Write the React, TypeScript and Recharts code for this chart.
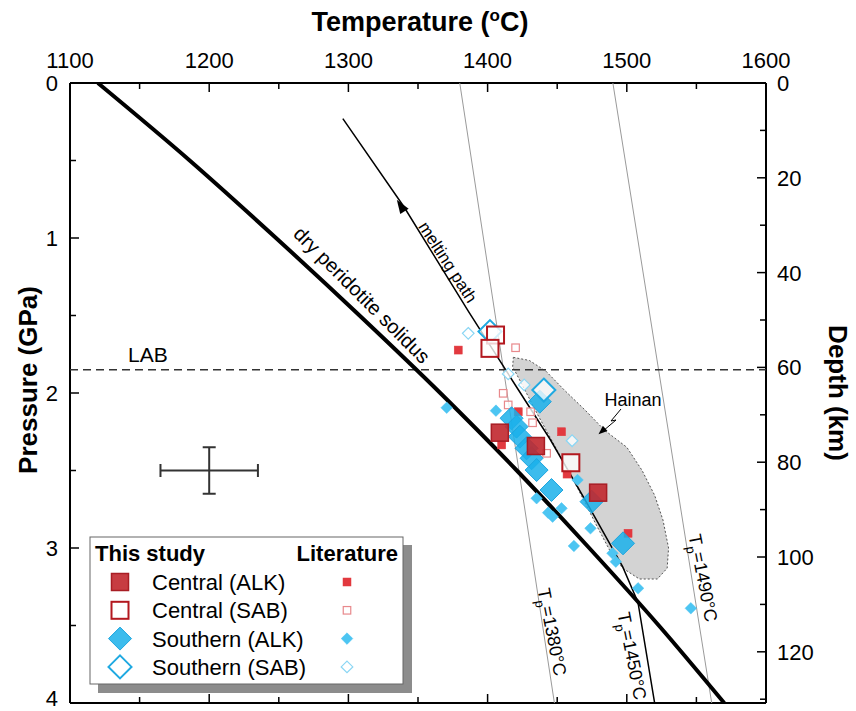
import React from 'react';
import { ComposedChart, Scatter, XAxis, YAxis, ErrorBar } from 'recharts';

const FONT = '"Liberation Sans", Arial, Helvetica, sans-serif';

// T in degC, P in GPa
const solidus = [
  { T: 1120, P: 0 }, { T: 1186, P: 0.5 }, { T: 1248, P: 1 }, { T: 1308, P: 1.5 },
  { T: 1366, P: 2 }, { T: 1421, P: 2.5 }, { T: 1473, P: 3 }, { T: 1523, P: 3.5 }, { T: 1570, P: 4 },
];
const adiabat1380 = [{ T: 1380, P: 0 }, { T: 1448, P: 4 }];
const adiabat1490 = [{ T: 1490, P: 0 }, { T: 1561, P: 4 }];
// melting path, then the Tp=1450 adiabat below the solidus
const meltPath = [
  { T: 1296, P: 0.23 }, { T: 1340, P: 0.8 }, { T: 1386, P: 1.47 }, { T: 1420, P: 1.95 },
  { T: 1445, P: 2.3 }, { T: 1472, P: 2.72 }, { T: 1497, P: 3.12 }, { T: 1508, P: 3.35 }, { T: 1520, P: 4 },
];
const lab = [{ T: 1100, P: 1.85 }, { T: 1600, P: 1.85 }];
const hainan = [
  { T: 1418.5, P: 1.77 }, { T: 1430, P: 1.79 }, { T: 1442, P: 1.86 }, { T: 1455, P: 1.98 },
  { T: 1470, P: 2.11 }, { T: 1484, P: 2.24 }, { T: 1500, P: 2.35 }, { T: 1511, P: 2.5 },
  { T: 1520, P: 2.66 }, { T: 1526, P: 2.82 }, { T: 1530, P: 3.0 }, { T: 1529, P: 3.13 },
  { T: 1522, P: 3.2 }, { T: 1509, P: 3.2 }, { T: 1497, P: 3.13 }, { T: 1488, P: 3.02 },
  { T: 1478, P: 2.85 }, { T: 1465, P: 2.62 }, { T: 1450, P: 2.37 }, { T: 1436, P: 2.14 },
  { T: 1425, P: 1.95 }, { T: 1418, P: 1.83 },
];
const errCross = [{ T: 1200, P: 2.5, eT: 35, eP: 0.15 }];

// this study
const centralALK = [{ T: 1408.8, P: 2.256 }, { T: 1434.7, P: 2.342 }, { T: 1479.4, P: 2.643 }];
const centralSAB = [{ T: 1405.7, P: 1.626 }, { T: 1401.7, P: 1.712 }, { T: 1459.8, P: 2.45 }];
const southernALK = [
  { T: 1437.5, P: 2.056 }, { T: 1417.2, P: 2.163 }, { T: 1420.8, P: 2.217 }, { T: 1423.2, P: 2.282 },
  { T: 1428.0, P: 2.357 }, { T: 1431.6, P: 2.421 }, { T: 1435.2, P: 2.497 }, { T: 1445.9, P: 2.626 },
  { T: 1474.7, P: 2.701 }, { T: 1497.3, P: 2.97 },
];
const southernSAB = [{ T: 1401.7, P: 1.604 }, { T: 1440.4, P: 1.981 }];

// literature
const litCentralALK = [
  { T: 1378.9, P: 1.723 }, { T: 1422.0, P: 2.121 }, { T: 1453.1, P: 2.25 },
  { T: 1410.1, P: 2.335 }, { T: 1457.1, P: 2.523 }, { T: 1500.9, P: 2.905 },
];
const litCentralSAB = [
  { T: 1420.1, P: 1.708 }, { T: 1411.2, P: 2.002 }, { T: 1414.8, P: 2.077 },
  { T: 1430.9, P: 2.121 }, { T: 1432.3, P: 2.192 }, { T: 1442.4, P: 2.389 },
];
const litSouthernALK = [
  { T: 1370.6, P: 2.095 }, { T: 1406.0, P: 2.114 }, { T: 1435.2, P: 2.679 }, { T: 1443.5, P: 2.772 },
  { T: 1446.7, P: 2.798 }, { T: 1453.1, P: 2.744 }, { T: 1464.6, P: 2.561 }, { T: 1473.9, P: 2.873 },
  { T: 1462.0, P: 2.987 }, { T: 1489.7, P: 3.034 }, { T: 1492.1, P: 3.088 }, { T: 1508.1, P: 3.26 },
  { T: 1546.0, P: 3.389 },
];
const litSouthernSAB = [
  { T: 1386.1, P: 1.615 }, { T: 1414.8, P: 1.877 }, { T: 1426.3, P: 1.948 }, { T: 1460.7, P: 2.308 },
];

const tempTicks = [1100, 1150, 1200, 1250, 1300, 1350, 1400, 1450, 1500, 1550, 1600];
const pressTicks = [0, 0.5, 1, 1.5, 2, 2.5, 3, 3.5, 4];
const depthTicks = [0, 10, 20, 30, 40, 50, 60, 70, 80, 90, 100, 110, 120, 130];

const square = (size: number, fill: string, stroke: string, sw: number, fo = 1) => (p: any) => (
  <rect x={p.cx - size / 2} y={p.cy - size / 2} width={size} height={size}
    fill={fill} fillOpacity={fo} stroke={stroke} strokeWidth={sw} />
);
const diamond = (r: number, fill: string, stroke: string, sw: number, fo = 1) => (p: any) => (
  <polygon points={`${p.cx},${p.cy - r} ${p.cx + r},${p.cy} ${p.cx},${p.cy + r} ${p.cx - r},${p.cy}`}
    fill={fill} fillOpacity={fo} stroke={stroke} strokeWidth={sw} />
);

const bigRed = square(17, '#c1272d', '#a81d24', 1.5, 0.9);
const bigRedOpen = square(17, '#ffffff', '#b3181f', 2, 0.8);
const bigBlue = diamond(11.5, '#1ab0ea', '#1ea6df', 1, 0.85);
const bigBlueOpen = diamond(11.5, '#ffffff', '#1fa9e1', 2, 0.75);
const smRed = square(8, '#e2393f', '#e2393f', 0.5);
const smRedOpen = square(7.5, '#ffffff', '#e8898c', 1.2, 0.8);
const smBlue = diamond(5.8, '#4cc5f2', '#4cc5f2', 0.5);
const smBlueOpen = diamond(5.8, '#ffffff', '#8ad6f4', 1.2, 0.8);
const none = () => <g />;

const TopTick = (props: any) => {
  const { x, y, payload } = props;
  const major = payload.value % 100 === 0;
  return (
    <g>
      <line x1={x} y1={y} x2={x} y2={y + (major ? 9 : 6)} stroke="#000" strokeWidth={1.5} />
      {major && (
        <text x={x} y={y - 15} textAnchor="middle" fontSize={22} fontFamily={FONT} fill="#000">
          {payload.value}
        </text>
      )}
    </g>
  );
};
const BottomTick = (props: any) => {
  const { x, y, payload } = props;
  const major = payload.value % 100 === 0;
  return <line x1={x} y1={y} x2={x} y2={y - (major ? 9 : 6)} stroke="#000" strokeWidth={1.5} />;
};
const LeftTick = (props: any) => {
  const { x, y, payload } = props;
  const major = Number.isInteger(payload.value);
  const last = payload.value === 4;
  return (
    <g>
      <line x1={x} y1={y} x2={x + (major ? 9 : 6)} y2={y} stroke="#000" strokeWidth={1.5} />
      {major && (
        <text x={x - 12} y={last ? y + 3 : y + 8} textAnchor="end" fontSize={22} fontFamily={FONT} fill="#000">
          {payload.value}
        </text>
      )}
    </g>
  );
};
const RightTick = (props: any) => {
  const { x, y, payload } = props;
  const major = payload.value % 20 === 0;
  return (
    <g>
      <line x1={x} y1={y} x2={x - (major ? 9 : 6)} y2={y} stroke="#000" strokeWidth={1.5} />
      {major && (
        <text x={x + 11} y={y + 8} textAnchor="start" fontSize={22} fontFamily={FONT} fill="#000">
          {payload.value}
        </text>
      )}
    </g>
  );
};

const Tp = ({ x, y, angle, value }: { x: number; y: number; angle: number; value: string }) => (
  <text transform={`translate(${x},${y}) rotate(${angle})`} textAnchor="middle" y={6}
    fontSize={18} fontFamily={FONT} fill="#000">
    T<tspan fontSize={13} dy={5}>p</tspan><tspan dy={-5}>={value}°C</tspan>
  </text>
);

const legendRows = [
  { label: 'Central (ALK)', big: bigRed, small: smRed },
  { label: 'Central (SAB)', big: bigRedOpen, small: smRedOpen },
  { label: 'Southern (ALK)', big: bigBlue, small: smBlue },
  { label: 'Southern (SAB)', big: bigBlueOpen, small: smBlueOpen },
];

export default function App() {
  return (
    <div style={{ position: 'absolute', left: 0, top: 0, width: 856, height: 711, background: '#fff' }}>
      <ComposedChart width={856} height={711} margin={{ top: 33, right: 30, bottom: 0, left: 10 }}>
        <XAxis xAxisId="t" orientation="top" type="number" dataKey="T" domain={[1100, 1600]}
          ticks={tempTicks} interval={0} height={50} allowDataOverflow
          axisLine={{ stroke: '#000', strokeWidth: 2 }} tickLine={false} tickSize={0} tickMargin={0} tick={<TopTick />} />
        <XAxis xAxisId="b" orientation="bottom" type="number" dataKey="T" domain={[1100, 1600]}
          ticks={tempTicks} interval={0} height={8} allowDataOverflow
          axisLine={{ stroke: '#000', strokeWidth: 2 }} tickLine={false} tickSize={0} tickMargin={0} tick={<BottomTick />} />
        <YAxis yAxisId="p" orientation="left" type="number" dataKey="P" domain={[0, 4]} reversed
          ticks={pressTicks} interval={0} width={60} allowDataOverflow
          axisLine={{ stroke: '#000', strokeWidth: 2 }} tickLine={false} tickSize={0} tickMargin={0} tick={<LeftTick />} />
        <YAxis yAxisId="d" orientation="right" type="number" domain={[0, 130.8]} reversed
          ticks={depthTicks} interval={0} width={60} allowDataOverflow
          axisLine={{ stroke: '#000', strokeWidth: 2 }} tickLine={false} tickSize={0} tickMargin={0} tick={<RightTick />} />

        <Scatter xAxisId="t" yAxisId="p" data={hainan} shape={none} isAnimationActive={false}
          line={{ stroke: '#555', strokeWidth: 1, strokeDasharray: '2 2', fill: '#d3d3d3' }} lineJointType="linearClosed" />
        <Scatter xAxisId="t" yAxisId="p" data={adiabat1380} shape={none} isAnimationActive={false}
          line={{ stroke: '#9a9a9a', strokeWidth: 1 }} />
        <Scatter xAxisId="t" yAxisId="p" data={adiabat1490} shape={none} isAnimationActive={false}
          line={{ stroke: '#9a9a9a', strokeWidth: 1 }} />
        <Scatter xAxisId="t" yAxisId="p" data={lab} shape={none} isAnimationActive={false}
          line={{ stroke: '#333', strokeWidth: 1.5, strokeDasharray: '8 5' }} />
        <Scatter xAxisId="t" yAxisId="p" data={meltPath} shape={none} isAnimationActive={false}
          line={{ stroke: '#000', strokeWidth: 1.5 }} lineJointType="linear" />
        <Scatter xAxisId="t" yAxisId="p" data={solidus} shape={none} isAnimationActive={false}
          line={{ stroke: '#000', strokeWidth: 4 }} lineJointType="monotoneX" />
        <Scatter xAxisId="t" yAxisId="p" data={errCross} shape={none} isAnimationActive={false}>
          <ErrorBar dataKey="eT" direction="x" width={6.5} stroke="#333" strokeWidth={2} />
          <ErrorBar dataKey="eP" direction="y" width={6.5} stroke="#333" strokeWidth={2} />
        </Scatter>

        <Scatter xAxisId="t" yAxisId="p" data={litSouthernALK} shape={smBlue} isAnimationActive={false} />
        <Scatter xAxisId="t" yAxisId="p" data={litSouthernSAB} shape={smBlueOpen} isAnimationActive={false} />
        <Scatter xAxisId="t" yAxisId="p" data={litCentralALK} shape={smRed} isAnimationActive={false} />
        <Scatter xAxisId="t" yAxisId="p" data={litCentralSAB} shape={smRedOpen} isAnimationActive={false} />
        <Scatter xAxisId="t" yAxisId="p" data={southernALK} shape={bigBlue} isAnimationActive={false} />
        <Scatter xAxisId="t" yAxisId="p" data={southernSAB} shape={bigBlueOpen} isAnimationActive={false} />
        <Scatter xAxisId="t" yAxisId="p" data={centralALK} shape={bigRed} isAnimationActive={false} />
        <Scatter xAxisId="t" yAxisId="p" data={centralSAB} shape={bigRedOpen} isAnimationActive={false} />
      </ComposedChart>

      <svg width={856} height={711} style={{ position: 'absolute', left: 0, top: 0, pointerEvents: 'none' }}
        fontFamily={FONT}>
        <text x={420} y={31} textAnchor="middle" fontSize={27} fontWeight="bold">
          Temperature (<tspan fontSize={17} dy={-10}>o</tspan><tspan dy={10}>C)</tspan>
        </text>
        <text transform="translate(37,380) rotate(-90)" textAnchor="middle" fontSize={26} fontWeight="bold">
          Pressure (GPa)
        </text>
        <text transform="translate(829,393) rotate(90)" textAnchor="middle" fontSize={26} fontWeight="bold">
          Depth (km)
        </text>

        <text x={128} y={362} fontSize={21}>LAB</text>
        <text transform="translate(362,295) rotate(45)" textAnchor="middle" y={7} fontSize={20}>
          dry peridotite solidus
        </text>
        <text transform="translate(448,262) rotate(57)" textAnchor="middle" y={6} fontSize={17}>
          melting path
        </text>
        <polygon points="-5,10 5,10 0,-4" fill="#000" transform="translate(399,203) rotate(-33)" />

        <text x={633} y={406} textAnchor="middle" fontSize={18}>Hainan</text>
        <polyline points="621,409 611,421 616,420 603,431" fill="none" stroke="#000" strokeWidth={1} />
        <polygon points="-3.5,-7 3.5,-7 0,2" fill="#000" transform="translate(600,433) rotate(48)" />

        <Tp x={552} y={632} angle={79} value="1380" />
        <Tp x={632} y={656} angle={79} value="1450" />
        <Tp x={703} y={578} angle={79} value="1490" />

        <rect x={98} y={545} width={314} height={148} fill="#8c8c8c" />
        <rect x={90} y={537} width={313} height={147} fill="#fff" stroke="#666" strokeWidth={1} />
        <text x={95} y={561} fontSize={22} fontWeight="bold">This study</text>
        <text x={398} y={561} fontSize={22} fontWeight="bold" textAnchor="end">Literature</text>
        {legendRows.map((r, i) => {
          const cy = 582 + i * 28.3;
          return (
            <g key={r.label}>
              {r.big({ cx: 120, cy })}
              <text x={152} y={cy + 8} fontSize={22}>{r.label}</text>
              {r.small({ cx: 347, cy })}
            </g>
          );
        })}
      </svg>
    </div>
  );
}
